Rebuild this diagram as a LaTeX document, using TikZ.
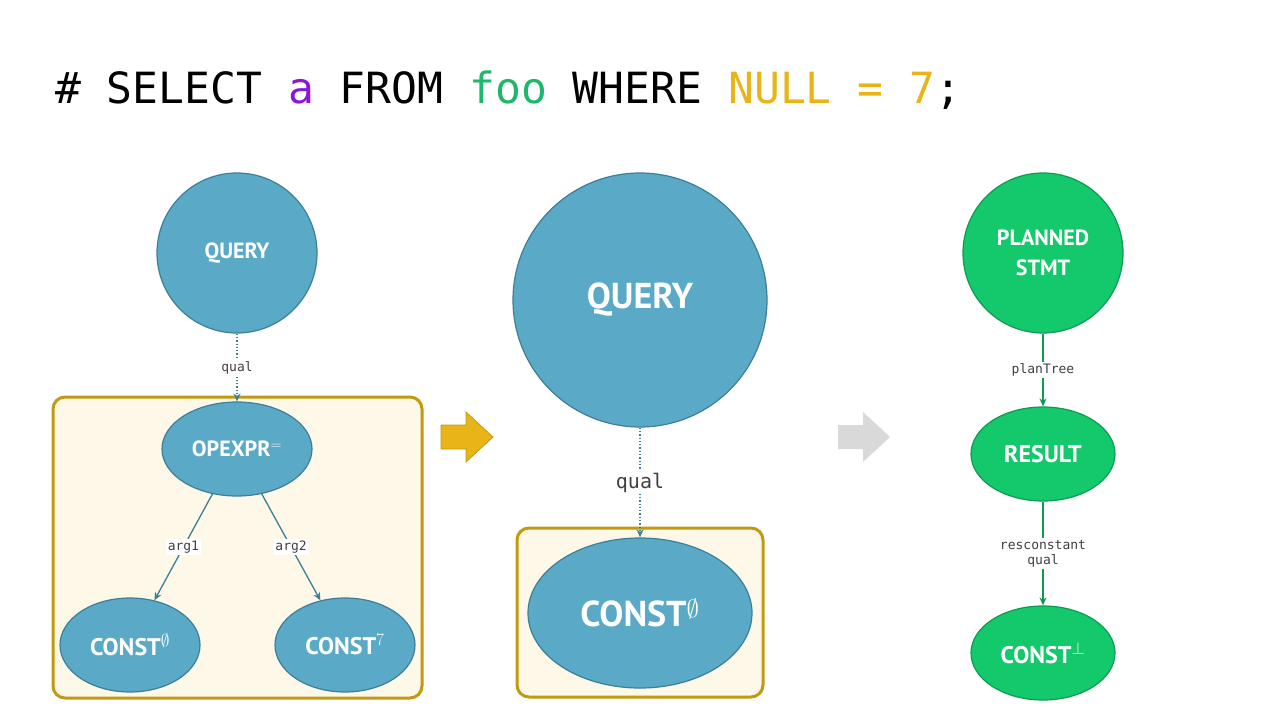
\documentclass[tikz,border=0pt]{standalone}
\usepackage{fontspec}
\setmainfont{PT Sans}
\newfontfamily\codefont{DejaVu Sans Mono}
\usetikzlibrary{arrows.meta,shapes.geometric}
\definecolor{qblue}{HTML}{5AAAC7}
\definecolor{qblueline}{HTML}{3C7F97}
\definecolor{pgreen}{HTML}{14C86C}
\definecolor{pgreenline}{HTML}{0E9A52}
\definecolor{boxgold}{HTML}{C19A10}
\definecolor{boxfill}{HTML}{FDF8E8}
\definecolor{kwpurple}{HTML}{8A16D8}
\definecolor{kwgreen}{HTML}{1DB86B}
\definecolor{kwyellow}{HTML}{E8B418}
\begin{document}
\begin{tikzpicture}[x=1pt,y=-1pt,
  blue node/.style={fill=qblue, draw=qblueline, line width=1.2pt, text=white, font=\bfseries},
  green node/.style={fill=pgreen, draw=pgreenline, line width=1.2pt, text=white, font=\bfseries},
  edge label/.style={fill=white, font=\codefont\fontsize{13}{15}\selectfont, text=black!75, inner sep=2pt},
  blue edge/.style={draw=qblueline, line width=1.3pt, -{Stealth[length=8pt,width=7pt]}},
  green edge/.style={draw=pgreenline, line width=1.3pt, -{Stealth[length=8pt,width=7pt]}},
  gold box/.style={fill=boxfill, draw=boxgold, line width=3pt, rounded corners=12pt}]
  \useasboundingbox[fill=white] (0,0) rectangle (1280,720);
  \node[anchor=base west, inner sep=0pt, font=\codefont\fontsize{43}{50}\selectfont] (sql) at (55,103)
    {\# SELECT \textcolor{kwpurple}{a} FROM \textcolor{kwgreen}{foo} WHERE \textcolor{kwyellow}{NULL = 7};};
  % parse tree
  \draw[gold box] (53,397) rectangle (422,698);
  \node[blue node, circle, minimum size=160pt, font=\bfseries\fontsize{22}{26}\selectfont] (query) at (237,253) {QUERY};
  \node[blue node, ellipse, minimum width=150pt, minimum height=94pt, font=\bfseries\fontsize{22}{26}\selectfont] (opexpr) at (237,449) {OPEXPR$^{=}$};
  \node[blue node, ellipse, minimum width=140pt, minimum height=94pt, font=\bfseries\fontsize{24}{28}\selectfont] (constnull) at (130,645) {CONST$^{\emptyset}$};
  \node[blue node, ellipse, minimum width=140pt, minimum height=94pt, font=\bfseries\fontsize{24}{28}\selectfont] (constseven) at (345,645) {CONST$^{7}$};
  \draw[blue edge, dotted] (query) -- node[edge label] {qual} (opexpr);
  \draw[blue edge] (opexpr) -- node[edge label] {arg1} (constnull);
  \draw[blue edge] (opexpr) -- node[edge label] {arg2} (constseven);
  % rewritten tree
  \draw[fill=kwyellow, draw=boxgold, line width=0.8pt] (441,425) -- (466,425) -- (466,412) -- (493,437) -- (466,462) -- (466,449) -- (441,449) -- cycle;
  \draw[gold box] (517,528) rectangle (763,697);
  \node[blue node, circle, minimum size=254pt, font=\bfseries\fontsize{36}{42}\selectfont] (bigquery) at (640,300) {QUERY};
  \node[blue node, ellipse, minimum width=224pt, minimum height=150pt, font=\bfseries\fontsize{36}{42}\selectfont] (bigconst) at (640,613) {CONST$^{\emptyset}$};
  \draw[blue edge, dotted] (bigquery) -- node[edge label, font=\codefont\fontsize{20}{24}\selectfont] {qual} (bigconst);
  % plan tree
  \draw[fill=black!15, draw=none] (838,425) -- (863,425) -- (863,412) -- (890,437) -- (863,462) -- (863,449) -- (838,449) -- cycle;
  \node[green node, circle, minimum size=160pt, align=center, font=\bfseries\fontsize{22}{30}\selectfont] (planned) at (1043,253) {PLANNED\\STMT};
  \node[green node, ellipse, minimum width=144pt, minimum height=94pt, font=\bfseries\fontsize{24}{28}\selectfont] (result) at (1043,454) {RESULT};
  \node[green node, ellipse, minimum width=144pt, minimum height=94pt, font=\bfseries\fontsize{24}{28}\selectfont] (constbot) at (1043,653) {CONST$^{\perp}$};
  \draw[green edge] (planned) -- node[edge label] {planTree} (result);
  \draw[green edge] (result) -- node[edge label, align=center] {resconstant\\qual} (constbot);
\end{tikzpicture}
\end{document}
